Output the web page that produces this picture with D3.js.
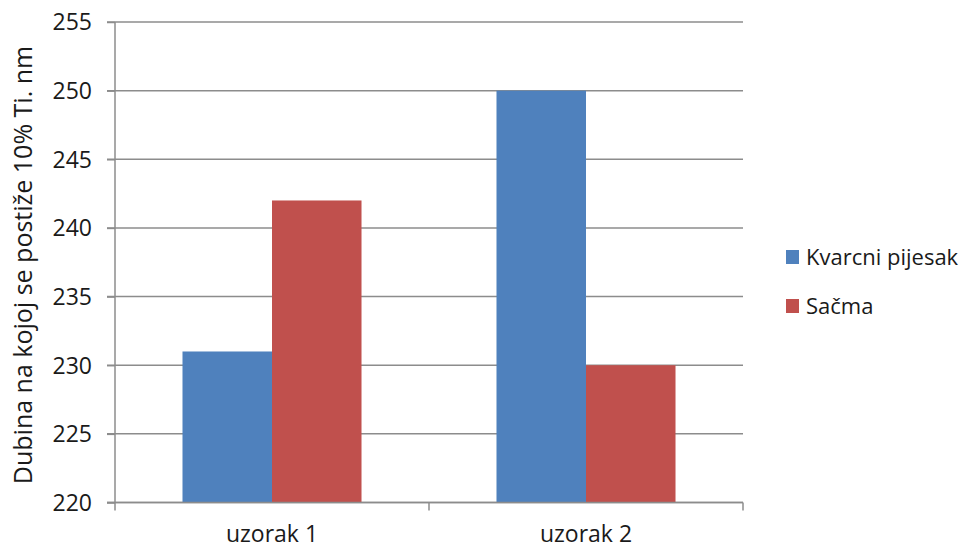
<!DOCTYPE html>
<html><head><meta charset="utf-8">
<script src="https://cdn.jsdelivr.net/npm/d3@7"></script>
<style>body{margin:0;background:#fff}svg{display:block}text{font-family:"Open Sans",sans-serif;fill:#1a1a1a}</style>
</head><body><svg id="c" width="970" height="549"></svg>
<script>
const categories = ["uzorak 1", "uzorak 2"];
const seriesNames = ["Kvarcni pijesak", "Sačma"];
const kvarcni = [231, 250];
const sacma = [242, 230];
const yTicks = [220, 225, 230, 235, 240, 245, 250, 255];
const colors = ["#4f81bd", "#c0504d"];
const yTitle = "Dubina na kojoj se postiže 10% Ti. nm";

const svg = d3.select("#c");
const L = 115, R = 743, T = 22, B = 502.5;
const x = d3.scaleBand().domain(categories).range([L, R]).paddingInner(0).paddingOuter(0);
const y = d3.scaleLinear().domain([220, 255]).range([B, T]);
const inner = d3.scaleBand().domain(seriesNames).range([0, x.bandwidth()]).paddingInner(0).paddingOuter(0.754);

// gridlines
svg.append("g").selectAll("line").data(yTicks).join("line")
  .attr("x1", L - 8).attr("x2", R).attr("y1", d => y(d)).attr("y2", d => y(d))
  .attr("stroke", "#8c8c8c").attr("stroke-width", 1.5);

// bars
const series = [kvarcni, sacma];
series.forEach((vals, si) => {
  svg.append("g").selectAll("rect").data(categories).join("rect")
    .attr("x", (c) => x(c) + inner(seriesNames[si]))
    .attr("width", inner.bandwidth())
    .attr("y", (c, i) => y(vals[i]))
    .attr("height", (c, i) => B - y(vals[i]))
    .attr("fill", colors[si]);
});

// y axis
const ya = svg.append("g").attr("transform", `translate(${L},0)`)
  .call(d3.axisLeft(y).tickValues(yTicks).tickSize(8).tickPadding(8));
ya.select(".domain").attr("stroke", "#8c8c8c").attr("stroke-width", 1.5).attr("d", `M-0,${T}V${B}`);
ya.selectAll(".tick line").attr("stroke", "#8c8c8c").attr("stroke-width", 1.5);
ya.selectAll("text").attr("font-size", 23).attr("fill", "#1a1a1a").attr("font-family", "'Open Sans',sans-serif").attr("x", -23).attr("dy", "0.34em");

// x axis
const xa = svg.append("g").attr("transform", `translate(0,${B})`)
  .call(d3.axisBottom(x).tickValues([]).tickSize(0));
xa.select(".domain").attr("stroke", "#8c8c8c").attr("stroke-width", 1.5).attr("d", `M${L - 8},0H${R}`);
const bounds = [L, x(categories[1]), R];
xa.selectAll(".bt").data(bounds).join("line").attr("class", "bt")
  .attr("x1", d => d).attr("x2", d => d).attr("y1", 0).attr("y2", 8)
  .attr("stroke", "#8c8c8c").attr("stroke-width", 1.5);
xa.selectAll(".lbl").data(categories).join("text").attr("class", "lbl")
  .attr("x", d => x(d) + x.bandwidth() / 2).attr("y", 39)
  .attr("text-anchor", "middle").attr("font-size", 23).text(d => d);

// y title
svg.append("text").attr("transform", `translate(32,265) rotate(-90)`)
  .attr("text-anchor", "middle").attr("font-size", 25).text(yTitle);

// legend
const lg = svg.append("g");
seriesNames.forEach((n, i) => {
  const yy = 250 + i * 49;
  lg.append("rect").attr("x", 786).attr("y", yy).attr("width", 13).attr("height", 14).attr("fill", colors[i]);
  lg.append("text").attr("x", 806).attr("y", yy + 15).attr("font-size", 22).text(n);
});
</script></body></html>
